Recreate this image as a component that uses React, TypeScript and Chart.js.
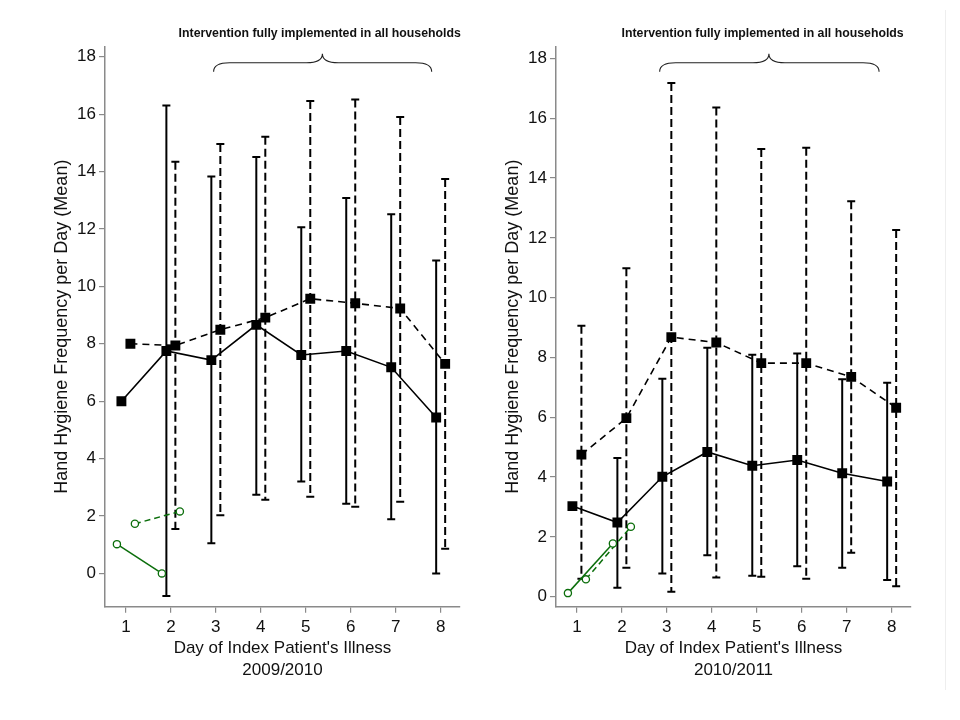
import React, { useEffect, useRef } from "react";
import { Chart, registerables } from "chart.js";

Chart.register(...registerables);

// days of the index patient's illness
const days = [1, 2, 3, 4, 5, 6, 7, 8];
const greenDays = [1, 2];
const xTicks = [1, 2, 3, 4, 5, 6, 7, 8];
const yTicks = [0, 2, 4, 6, 8, 10, 12, 14, 16, 18];
const note = "Intervention fully implemented in all households";

// 2009/2010
const solidMean0910 = [6.0, 7.75, 7.43, 8.66, 7.61, 7.75, 7.18, 5.43];
const solidLow0910 = [null, -0.79, 1.05, 2.74, 3.2, 2.43, 1.89, 0.0];
const solidHigh0910 = [null, 16.3, 13.83, 14.51, 12.06, 13.08, 12.51, 10.9];
const dashMean0910 = [8.0, 7.94, 8.49, 8.91, 9.57, 9.41, 9.23, 7.3];
const dashLow0910 = [null, 1.55, 2.03, 2.57, 2.67, 2.32, 2.5, 0.86];
const dashHigh0910 = [null, 14.34, 14.96, 15.21, 16.46, 16.51, 15.9, 13.74];
const greenSolid0910 = [1.02, 0.0];
const greenDash0910 = [1.73, 2.16];

// 2010/2011
const solidMean1011 = [3.03, 2.48, 4.01, 4.84, 4.38, 4.57, 4.13, 3.85];
const solidLow1011 = [null, 0.3, 0.78, 1.39, 0.7, 1.02, 0.97, 0.56];
const solidHigh1011 = [null, 4.64, 7.29, 8.32, 8.09, 8.13, 7.27, 7.15];
const dashMean1011 = [4.75, 5.97, 8.68, 8.5, 7.81, 7.81, 7.35, 6.32];
const dashLow1011 = [0.6, 0.97, 0.17, 0.64, 0.67, 0.6, 1.47, 0.35];
const dashHigh1011 = [9.06, 10.98, 17.18, 16.36, 14.97, 15.01, 13.22, 12.26];
const greenSolid1011 = [0.12, 1.78];
const greenDash1011 = [0.58, 2.34];

const family = "'Liberation Sans', Arial, sans-serif";
const axisGray = "#8a8a8a";
const green = "#0b6e0b";

type Num = number | null;

type PanelProps = {
	season: string;
	solidMean: number[];
	solidLow: Num[];
	solidHigh: Num[];
	dashMean: number[];
	dashLow: Num[];
	dashHigh: Num[];
	greenSolid: number[];
	greenDash: number[];
	yMin: number;
	yMax: number;
	brace: number[];
	noteX: number;
};

const Panel = (p: PanelProps) => {
	const chartRef = useRef<HTMLCanvasElement>(null);
	const chartInstance = useRef<Chart | null>(null);

	useEffect(() => {
		if (!chartRef.current) return;
		const ctx = chartRef.current.getContext("2d");
		if (!ctx) return;

		const errorBars = {
			id: "errorBars",
			beforeDatasetsDraw(chart: any) {
				const { ctx, scales } = chart;
				const { x, y } = scales;
				const draw = (low: Num[], high: Num[], offset: number, dash: number[]) => {
					ctx.save();
					ctx.strokeStyle = "#000";
					ctx.lineWidth = 2;
					days.forEach((d, i) => {
						const lo = low[i];
						const hi = high[i];
						if (lo == null || hi == null) return;
						const px = x.getPixelForValue(d + offset);
						const y1 = y.getPixelForValue(hi);
						const y2 = y.getPixelForValue(lo);
						ctx.setLineDash(dash);
						ctx.beginPath();
						ctx.moveTo(px, y1);
						ctx.lineTo(px, y2);
						ctx.stroke();
						ctx.setLineDash([]);
						ctx.beginPath();
						ctx.moveTo(px - 4, y1);
						ctx.lineTo(px + 4, y1);
						ctx.moveTo(px - 4, y2);
						ctx.lineTo(px + 4, y2);
						ctx.stroke();
					});
					ctx.restore();
				};
				draw(p.solidLow, p.solidHigh, -0.1, []);
				draw(p.dashLow, p.dashHigh, 0.1, [8, 4]);
			},
		};

		const braceNote = {
			id: "braceNote",
			afterDraw(chart: any) {
				const { ctx, chartArea, scales } = chart;
				const x = scales.x;
				const top = chartArea.top;
				const [a, c, b] = p.brace.map((v) => x.getPixelForValue(v));
				const yEnd = top + 25;
				const yFlat = top + 16;
				const yTip = top + 7;
				ctx.save();
				ctx.strokeStyle = "#222";
				ctx.lineWidth = 1.1;
				ctx.beginPath();
				ctx.moveTo(a, yEnd);
				ctx.quadraticCurveTo(a, yFlat, a + 16, yFlat);
				ctx.lineTo(c - 16, yFlat);
				ctx.quadraticCurveTo(c, yFlat, c, yTip);
				ctx.quadraticCurveTo(c, yFlat, c + 16, yFlat);
				ctx.lineTo(b - 16, yFlat);
				ctx.quadraticCurveTo(b, yFlat, b, yEnd);
				ctx.stroke();
				ctx.fillStyle = "#111";
				ctx.font = `bold 12.3px ${family}`;
				ctx.textAlign = "center";
				ctx.textBaseline = "middle";
				ctx.fillText(note, x.getPixelForValue(p.noteX), top - 13);
				ctx.restore();
			},
		};

		if (chartInstance.current) {
			chartInstance.current.destroy();
		}

		chartInstance.current = new Chart(ctx, {
			type: "line",
			data: {
				datasets: [
					{
						data: days.map((d, i) => ({ x: d - 0.1, y: p.solidMean[i] })),
						borderColor: "#000",
						borderWidth: 1.6,
						pointStyle: "rect",
						pointRadius: 7,
						pointBackgroundColor: "#000",
						pointBorderWidth: 0,
					},
					{
						data: days.map((d, i) => ({ x: d + 0.1, y: p.dashMean[i] })),
						borderColor: "#000",
						borderWidth: 1.6,
						borderDash: [7, 5],
						pointStyle: "rect",
						pointRadius: 7,
						pointBackgroundColor: "#000",
						pointBorderWidth: 0,
					},
					{
						data: greenDays.map((d, i) => ({ x: d - 0.2, y: p.greenSolid[i] })),
						borderColor: green,
						borderWidth: 1.5,
						pointStyle: "circle",
						pointRadius: 3.6,
						pointBackgroundColor: "#fff",
						pointBorderColor: green,
						pointBorderWidth: 1.3,
					},
					{
						data: greenDays.map((d, i) => ({ x: d + 0.2, y: p.greenDash[i] })),
						borderColor: green,
						borderWidth: 1.5,
						borderDash: [6, 4],
						pointStyle: "circle",
						pointRadius: 3.6,
						pointBackgroundColor: "#fff",
						pointBorderColor: green,
						pointBorderWidth: 1.3,
					},
				],
			},
			options: {
				animation: false,
				responsive: false,
				layout: { padding: { left: 40, right: 20, top: 46.7, bottom: 30 } },
				plugins: {
					legend: { display: false },
					tooltip: { enabled: false },
				},
				scales: {
					x: {
						type: "linear",
						min: 0.535,
						max: 8.43,
						afterBuildTicks: (s: any) => {
							s.ticks = xTicks.map((v) => ({ value: v }));
						},
						afterFit: (s: any) => {
							s.height = 83.3;
						},
						grid: {
							display: true,
							drawOnChartArea: false,
							drawTicks: true,
							tickLength: 6,
							color: axisGray,
							lineWidth: 1.2,
						},
						border: { display: true, color: axisGray, width: 1.5 },
						ticks: {
							color: "#111",
							font: { family, size: 17 },
							padding: 4,
							maxRotation: 0,
							autoSkip: false,
						},
						title: {
							display: true,
							text: ["Day of Index Patient's Illness", p.season],
							color: "#111",
							font: { family, size: 17, lineHeight: 1.3 },
							padding: { top: 0, bottom: 9 },
						},
					},
					y: {
						type: "linear",
						min: p.yMin,
						max: p.yMax,
						afterBuildTicks: (s: any) => {
							s.ticks = yTicks.map((v) => ({ value: v }));
						},
						afterFit: (s: any) => {
							s.width = 65;
						},
						grid: {
							display: true,
							drawOnChartArea: false,
							drawTicks: true,
							tickLength: 6,
							color: axisGray,
							lineWidth: 1.2,
						},
						border: { display: true, color: axisGray, width: 1.5 },
						ticks: {
							color: "#111",
							font: { family, size: 17 },
							padding: 3,
							autoSkip: false,
						},
						title: {
							display: true,
							text: "Hand Hygiene Frequency per Day (Mean)",
							color: "#111",
							font: { family, size: 18 },
							padding: { top: 11, bottom: 0 },
						},
					},
				},
			},
			plugins: [errorBars, braceNote],
		});

		return () => {
			if (chartInstance.current) {
				chartInstance.current.destroy();
				chartInstance.current = null;
			}
		};
	}, []);

	return <canvas ref={chartRef} width={480} height={720} style={{ display: "block" }} />;
};

const App = () => {
	return (
		<div style={{ position: "absolute", left: 0, top: 0, width: 960, height: 720, background: "#fff" }}>
			<div style={{ position: "absolute", left: 0, top: 0 }}>
				<Panel
					season="2009/2010"
					solidMean={solidMean0910}
					solidLow={solidLow0910}
					solidHigh={solidHigh0910}
					dashMean={dashMean0910}
					dashLow={dashLow0910}
					dashHigh={dashHigh0910}
					greenSolid={greenSolid0910}
					greenDash={greenDash0910}
					yMin={-1.16}
					yMax={18.35}
					brace={[2.95, 5.37, 7.8]}
					noteX={5.31}
				/>
			</div>
			<div style={{ position: "absolute", left: 451, top: 0 }}>
				<Panel
					season="2010/2011"
					solidMean={solidMean1011}
					solidLow={solidLow1011}
					solidHigh={solidHigh1011}
					dashMean={dashMean1011}
					dashLow={dashLow1011}
					dashHigh={dashHigh1011}
					greenSolid={greenSolid1011}
					greenDash={greenDash1011}
					yMin={-0.334}
					yMax={18.39}
					brace={[2.84, 5.27, 7.72]}
					noteX={5.13}
				/>
			</div>
			<div style={{ position: "absolute", left: 945, top: 10, width: 1, height: 680, background: "#eeeeee" }} />
		</div>
	);
};

export default App;
